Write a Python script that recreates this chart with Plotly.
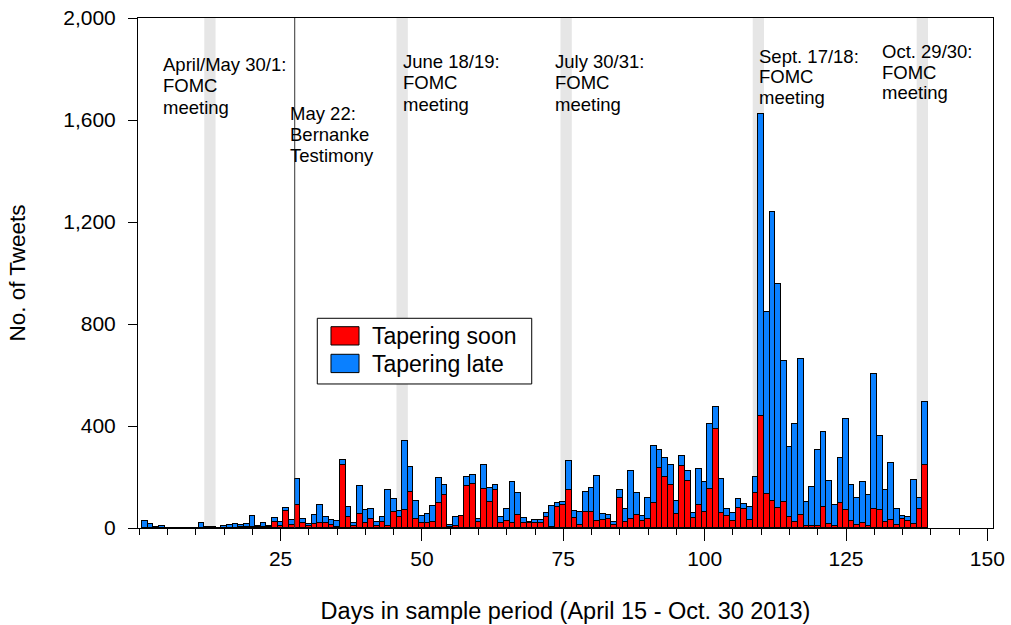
# Daily tapering tweets (soon vs late) over the 2013 sample period, stacked bars.
import plotly.graph_objects as go

days = list(range(1, 140))

# tweets classified as "Tapering soon" (red, bottom of stack)
tapering_soon = [
    0, 0, 0, 0, 0, 0, 0, 0, 0, 0,
    0, 0, 0, 0, 0, 0, 0, 2, 3, 3,
    2, 5, 3, 22, 9, 67, 12, 90, 20, 6,
    16, 20, 20, 10, 4, 247, 43, 7, 55, 18,
    35, 8, 22, 7, 64, 42, 71, 142, 37, 21,
    21, 24, 98, 129, 5, 7, 46, 163, 172, 24,
    152, 102, 149, 20, 27, 21, 52, 20, 20, 21,
    21, 44, 5, 82, 90, 149, 39, 12, 64, 64,
    27, 33, 37, 13, 118, 24, 37, 51, 26, 34,
    98, 235, 201, 170, 55, 242, 183, 39, 91, 63,
    153, 389, 59, 48, 27, 80, 74, 31, 136, 438,
    133, 107, 78, 101, 44, 22, 52, 7, 7, 9,
    82, 17, 7, 98, 72, 26, 13, 20, 7, 75,
    69, 22, 33, 10, 35, 26, 16, 73, 246,
]

# tweets classified as "Tapering late" (blue, stacked on top)
tapering_late = [
    26, 14, 3, 7, 0, 0, 0, 0, 0, 0,
    20, 3, 2, 1, 6, 10, 14, 10, 13, 43,
    7, 13, 4, 17, 13, 11, 21, 103, 17, 11,
    35, 71, 23, 23, 25, 21, 39, 13, 108, 53,
    40, 16, 21, 143, 50, 26, 269, 98, 70, 26,
    34, 62, 99, 40, 5, 36, 2, 36, 35, 10,
    96, 55, 21, 23, 49, 159, 85, 21, 4, 10,
    12, 16, 83, 17, 12, 112, 28, 49, 78, 93,
    178, 22, 13, 11, 30, 51, 185, 88, 21, 84,
    225, 71, 73, 77, 52, 40, 42, 20, 140, 117,
    256, 87, 133, 26, 32, 34, 19, 53, 63, 1185,
    715, 1131, 879, 553, 272, 387, 611, 95, 154, 296,
    296, 166, 84, 178, 355, 141, 105, 159, 121, 530,
    293, 126, 222, 64, 13, 16, 172, 45, 249,
]

series_names = ["Tapering soon", "Tapering late"]
series_colors = ["#FF0000", "#0A80FF"]

# shaded FOMC meeting windows (start, end day) and the Bernanke testimony day
fomc_windows = [(11.5, 13.5), (45.5, 47.5), (74.5, 76.5), (108.5, 110.5), (137.5, 139.5)]
testimony_day = 27.5

# event labels: (left x in days, y of each line, lines)
event_labels = [
    (3.9, [1818, 1736, 1651], ["April/May 30/1:", "FOMC", "meeting"]),
    (26.3, [1625, 1542, 1460], ["May 22:", "Bernanke", "Testimony"]),
    (46.3, [1829, 1746, 1662], ["June 18/19:", "FOMC", "meeting"]),
    (73.2, [1829, 1746, 1662], ["July 30/31:", "FOMC", "meeting"]),
    (109.2, [1851, 1769, 1688], ["Sept. 17/18:", "FOMC", "meeting"]),
    (131.0, [1869, 1787, 1706], ["Oct. 29/30:", "FOMC", "meeting"]),
]

y_ticks = [0, 400, 800, 1200, 1600, 2000]
x_ticks = [25, 50, 75, 100, 125, 150]

FONT = "Liberation Sans, Arial, Helvetica, sans-serif"

fig = go.Figure()

for values, name, color in zip([tapering_soon, tapering_late], series_names, series_colors):
    fig.add_trace(go.Bar(
        x=days, y=values, name=name, showlegend=False,
        marker=dict(color=color, line=dict(color="black", width=1)),
    ))

# gray bands behind the bars for the FOMC meetings
for start, end in fomc_windows:
    fig.add_vrect(x0=start, x1=end, fillcolor="#E6E6E6", line_width=0, layer="below")

fig.add_vline(x=testimony_day, line=dict(color="#333333", width=1))

for x_left, ys, lines in event_labels:
    for y, text in zip(ys, lines):
        fig.add_annotation(
            x=x_left, y=y, text=text, showarrow=False,
            xanchor="left", yanchor="middle",
            font=dict(family=FONT, size=18.5, color="black"),
        )

# legend drawn by hand so the swatches get the wide boxes of the original
fig.add_shape(type="rect", xref="paper", yref="paper",
              x0=0.2097, x1=0.4605, y0=0.2824, y1=0.4112,
              line=dict(color="black", width=1), fillcolor="white", layer="above")
for i, (name, color) in enumerate(zip(series_names, series_colors)):
    top = 0.3947 - i * 0.0541
    fig.add_shape(type="rect", xref="paper", yref="paper",
                  x0=0.2257, x1=0.2585, y0=top - 0.0359, y1=top,
                  line=dict(color="black", width=1), fillcolor=color, layer="above")
    fig.add_annotation(xref="paper", yref="paper", x=0.2713, y=top - 0.0185,
                       text=name, showarrow=False, xanchor="left", yanchor="middle",
                       font=dict(family=FONT, size=23, color="black"))

fig.update_layout(
    width=1011, height=625,
    barmode="stack", bargap=0,
    plot_bgcolor="white", paper_bgcolor="white",
    margin=dict(l=138, r=18, t=18, b=97, autoexpand=False),
    font=dict(family=FONT, size=21, color="black"),
)

fig.update_xaxes(
    range=[-0.22, 151.0], automargin=False,
    tickvals=x_ticks, ticks="outside", ticklen=12, tickcolor="black",
    minor=dict(dtick=5, tick0=0, ticks="outside", ticklen=6, tickcolor="black"),
    showline=True, linecolor="black", linewidth=1, mirror=True,
    showgrid=False, zeroline=False, ticklabeloverflow="allow",
    title=dict(text="Days in sample period (April 15 - Oct. 30 2013)", standoff=33,
               font=dict(size=23.5)),
)
fig.update_yaxes(
    range=[0, 2000], automargin=False,
    tickvals=y_ticks, tickformat=",", ticks="outside", ticklen=9, tickcolor="black",
    ticklabelstandoff=8, ticklabeloverflow="allow",
    showline=True, linecolor="black", linewidth=1, mirror=True,
    showgrid=False, zeroline=False,
    title=dict(text="No. of Tweets", standoff=31, font=dict(size=22.5)),
)

# drop the browser's default 8px body margin so the figure fills the window exactly
fig.write_html("out.html", config={"displayModeBar": False},
               post_script="document.body.style.margin = '0';")
